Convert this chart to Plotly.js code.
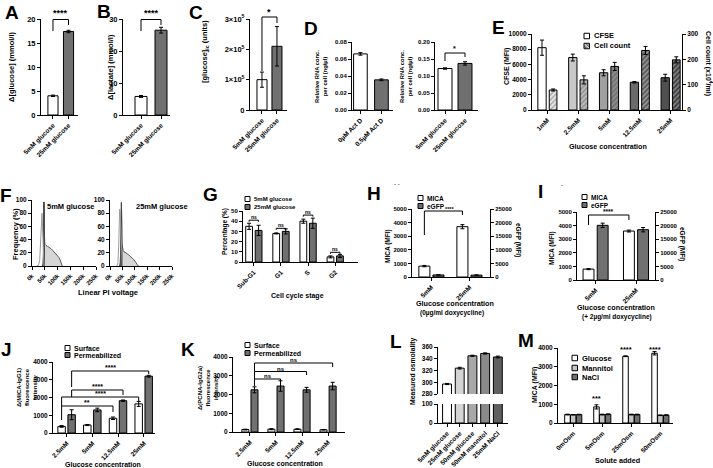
<!DOCTYPE html>
<html><head><meta charset="utf-8">
<script src="https://cdn.plot.ly/plotly-3.0.1.min.js"></script>
<style>html,body{margin:0;padding:0;background:#fff}#chart{width:713px;height:468px}</style>
</head><body><div id="chart"></div>
<script>
// ---------------- DATA ----------------
const glucCats = ['5mM glucose', '25mM glucose'];
const aVals = [4.0, 17.4], aErr = [0.15, 0.25];
const bVals = [5.8, 26.5], bErr = [0.3, 0.9];
const cVals = [1.0e5, 2.1e5], cErr = [0.25e5, 0.65e5];
const d1Cats = ['0µM Act D', '0.5µM Act D'];
const d1Vals = [0.066, 0.0355], d1Err = [0.0015, 0.001];
const d2Vals = [0.122, 0.137], d2Err = [0.002, 0.005];
const eCats = ['1mM', '2.5mM', '5mM', '12.5mM', '25mM'];
const eCFSE = [8200, 6900, 4900, 3650, 4250], eCFSEErr = [1000, 450, 400, 100, 450];
const eCount = [79, 119, 172, 235, 198], eCountErr = [4, 16, 16, 16, 12];
const f1WhiteX = [18, 25, 30, 34, 37, 39, 41, 43, 45, 47];
const f1WhiteY = [0, 1, 8, 45, 78, 80, 60, 25, 5, 0];
const f1MainX = [40, 43, 45, 46, 47, 48, 50, 52, 55, 60, 65, 70, 75, 80, 85, 90, 95, 100, 105, 110, 115, 118];
const f1MainY = [0, 3, 15, 60, 97, 55, 33, 32, 31, 30, 29, 27, 26, 24, 22, 20, 18, 16, 13, 9, 3, 0];
const f1SpikeX = [44, 45.5, 46.5, 47.5, 49], f1SpikeY = [0, 80, 97, 85, 0];
const f2WhiteX = [28, 32, 35, 37, 39, 41, 43, 45, 47, 50];
const f2WhiteY = [0, 5, 30, 70, 86, 80, 60, 30, 8, 0];
const f2MainX = [38, 41, 43, 45, 46, 47, 48, 50, 53, 56, 60, 65, 70, 75, 80, 85, 90, 95, 100, 105, 110, 115];
const f2MainY = [0, 5, 20, 60, 96, 60, 35, 25, 23, 22, 21, 20, 19, 17, 15, 14, 12, 10, 8, 5, 2, 0];
const f2SpikeX = [43, 45, 46, 47, 49], f2SpikeY = [0, 85, 96, 80, 0];
const gCats = ['Sub-G1', 'G1', 'S', 'G2'];
const g5 = [35, 28, 40, 5], g5Err = [3, 0.5, 2, 1];
const g25 = [31, 30, 38, 6], g25Err = [5, 2.5, 5, 1.5];
const hCats = ['5mM', '25mM'];
const hMICA = [800, 3700], hMICAErr = [50, 150];
const hEGFP = [750, 700], hEGFPErr = [60, 60];
const iMICA = [800, 3600], iMICAErr = [40, 70];
const iEGFP = [20100, 18500], iEGFPErr = [800, 800];
const jkCats = ['2.5mM', '5mM', '12.5mM', '25mM'];
const jSurf = [370, 450, 830, 1640], jSurfErr = [50, 30, 70, 140];
const jPerm = [1030, 1300, 1820, 3200], jPermErr = [280, 100, 40, 50];
const kSurf = [130, 150, 150, 120], kSurfErr = [20, 30, 20, 15];
const kPerm = [2250, 2450, 2250, 2450], kPermErr = [160, 280, 130, 200];
const lCats = ['5mM glucose', '25mM glucose', '50mM glucose', '50mM mannitol', '25mM NaCl'];
const lVals = [297, 324, 345, 349, 343], lErr = [1, 1.5, 1, 1, 1.5];
const mCats = ['0mOsm', '5mOsm', '25mOsm', '50mOsm'];
const mGlu = [450, 860, 3560, 3720], mGluErr = [20, 110, 20, 90];
const mMan = [440, 450, 450, 410], mManErr = [15, 20, 20, 15];
const mNaCl = [450, 465, 450, 420], mNaClErr = [15, 20, 20, 15];

// ---------------- STYLE / LAYOUT ----------------
const W = 713, H = 468;
const FONT = 'Liberation Sans, Arial, sans-serif';
const BK = '#000', GR = '#707070';
const fnt = (s) => ({ family: FONT, size: s, color: BK, weight: 'bold' });

const layout = {
  width: W, height: H, margin: { l: 0, r: 0, t: 0, b: 0 },
  paper_bgcolor: '#fff', plot_bgcolor: 'rgba(0,0,0,0)', showlegend: false, barmode: 'overlay',
  font: fnt(7), annotations: [], shapes: []
};
const axBase = {
  showline: true, linecolor: BK, linewidth: 1, ticks: 'outside', ticklen: 3, tickwidth: 1, tickcolor: BK,
  showgrid: false, zeroline: false, fixedrange: true, automargin: false
};
function X(id, x0, x1, range, anchor, cats, o) {
  const ax = Object.assign({}, axBase, {
    domain: [x0 / W, x1 / W], range: range, anchor: anchor, tickangle: -45, tickfont: fnt(6.5)
  });
  if (cats) { ax.type = 'category'; ax.categoryorder = 'array'; ax.categoryarray = cats; }
  layout['xaxis' + (id === 1 ? '' : id)] = Object.assign(ax, o || {});
}
function Y(id, yt, yb, range, anchor, o) {
  layout['yaxis' + (id === 1 ? '' : id)] = Object.assign({}, axBase, {
    domain: [1 - yb / H, 1 - yt / H], range: range, anchor: anchor, tickangle: 0, tickfont: fnt(6.5)
  }, o || {});
}
function txt(x, y, t, s, o) {
  layout.annotations.push(Object.assign({
    xref: 'paper', yref: 'paper', x: x / W, y: 1 - y / H, text: t, showarrow: false,
    xanchor: 'center', yanchor: 'middle', font: fnt(s)
  }, o || {}));
}
function star(xa, xc, y, t, s) {
  layout.annotations.push({ xref: xa, yref: 'paper', x: xc, y: 1 - y / H, text: t, showarrow: false,
    xanchor: 'center', yanchor: 'middle', font: fnt(s) });
}
function bracket(xa, x0, x1, yh, yl0, yl1) {
  const L = (a, b, c, d) => ({ type: 'line', xref: xa, yref: 'paper', x0: a, x1: b, y0: 1 - c / H, y1: 1 - d / H, line: { color: BK, width: 1 } });
  layout.shapes.push(L(x0, x0, yl0, yh), L(x0, x1, yh, yh), L(x1, x1, yh, yl1));
}
function bracketD(xa, ya, x0, x1, yh, yl) {
  const L = (a, b, c, d) => ({ type: 'line', xref: xa, yref: ya, x0: a, x1: b, y0: c, y1: d, line: { color: BK, width: 1 } });
  layout.shapes.push(L(x0, x0, yl, yh), L(x0, x1, yh, yh), L(x1, x1, yh, yl));
}
function legItem(x, y, fill, label, s, box, hatch) {
  layout.shapes.push({ type: 'rect', xref: 'paper', yref: 'paper', x0: x / W, x1: (x + box) / W,
    y0: 1 - (y + box / 2) / H, y1: 1 - (y - box / 2) / H, fillcolor: fill, line: { color: BK, width: 1 } });
  if (hatch) {
    for (let k = 1; k <= 3; k++) {
      const a = k * box / 4;
      layout.shapes.push({ type: 'line', xref: 'paper', yref: 'paper', x0: (x) / W, y0: 1 - (y + box / 2 - a) / H,
        x1: (x + a) / W, y1: 1 - (y + box / 2) / H, line: { color: '#333', width: 0.7 } });
      layout.shapes.push({ type: 'line', xref: 'paper', yref: 'paper', x0: (x + a) / W, y0: 1 - (y - box / 2) / H,
        x1: (x + box) / W, y1: 1 - (y - box / 2 + (box - a)) / H, line: { color: '#333', width: 0.7 } });
    }
  }
  txt(x + box + 2, y, label, s, { xanchor: 'left' });
}

const traces = [];
function bars(xa, ya, cats, vals, errs, colors, off, wd, extra) {
  const t = { type: 'bar', x: cats, y: vals, xaxis: xa, yaxis: ya, offset: off, width: wd,
    marker: { color: colors, line: { color: BK, width: 1 } }, hoverinfo: 'skip' };
  if (errs) t.error_y = { type: 'data', array: errs, visible: true, color: BK, thickness: 1, width: 2 };
  traces.push(Object.assign(t, extra || {}));
}
function hist(xa, ya, xs, ys, fill, line) {
  traces.push({ type: 'scatter', mode: 'lines', x: xs, y: ys, xaxis: xa, yaxis: ya,
    fill: fill ? 'tozeroy' : 'none', fillcolor: fill || 'rgba(0,0,0,0)', line: { color: line, width: 1 }, hoverinfo: 'skip' });
}

// ---------- A ----------
X(1, 41, 78, [-0.77, 1.61], 'y', glucCats);
Y(1, 19, 115, [0, 20], 'x', { dtick: 5, tickfont: fnt(7.5) });
bars('x', 'y', glucCats, aVals, aErr, ['#fff', GR], -0.325, 0.65);
bracket('x', 0, 1, 19.5, 31, 25); star('x', 0.5, 13, '****', 9);
txt(12, 67, 'Δ[glucose] (mmol/l)', 7.5, { textangle: -90 });
// ---------- B ----------
X(2, 123, 170, [-0.9, 1.45], 'y2', glucCats);
Y(2, 19, 115, [0, 30], 'x2', { dtick: 10, tickfont: fnt(7.5) });
bars('x2', 'y2', glucCats, bVals, bErr, ['#fff', GR], -0.3, 0.6);
bracket('x2', 0, 1, 19.5, 31, 25); star('x2', 0.5, 13, '****', 9);
txt(111, 67, 'Δ[lactate] (mmol/l)', 7.5, { textangle: -90 });
// ---------- C ----------
X(3, 250, 287, [-0.8, 1.67], 'y3', glucCats);
Y(3, 19, 110, [0, 3e5], 'x3', { tickvals: [0, 1e5, 2e5, 3e5], ticktext: ['0', '1×10<sup>5</sup>', '2×10<sup>5</sup>', '3×10<sup>5</sup>'], tickfont: fnt(7.5) });
bars('x3', 'y3', glucCats, cVals, cErr, ['#fff', GR], -0.335, 0.67);
bracket('x3', 0, 1, 17, 71, 23); star('x3', 0.5, 12, '*', 9);
txt(205, 52, '[glucose]<sub>ic</sub> (units)', 7.5, { textangle: -90 });
// ---------- D ----------
X(4, 352, 393, [-0.4, 1.55], 'y4', d1Cats);
Y(4, 42, 110, [0, 0.08], 'x4', { dtick: 0.02, tickformat: '.2f', tickfont: fnt(6) });
bars('x4', 'y4', d1Cats, d1Vals, d1Err, ['#fff', GR], -0.325, 0.65);
txt(321, 77, 'Relative RNA conc.<br>per cell (ng/µl)', 5.8, { textangle: -90 });
X(5, 435, 478, [-0.5, 1.65], 'y5', glucCats);
Y(5, 42, 110, [0, 0.2], 'x5', { dtick: 0.05, tickformat: '.2f', tickfont: fnt(6) });
bars('x5', 'y5', glucCats, d2Vals, d2Err, ['#fff', GR], -0.35, 0.7);
bracket('x5', 0, 1, 53, 61, 57); star('x5', 0.5, 49, '*', 7);
txt(406, 77, 'Relative RNA conc.<br>per cell (ng/µl)', 5.8, { textangle: -90 });
// ---------- E ----------
X(6, 532, 682, [-0.5, 4.37], 'y6', eCats);
Y(6, 34, 110, [0, 10000], 'x6', { dtick: 2000, tickformat: 'd' });
Y(7, 34, 110, [0, 300], 'x6', { dtick: 100, side: 'right', overlaying: 'y6' });
bars('x6', 'y6', eCats, eCFSE, eCFSEErr, ['#fff', '#c8c8c8', '#a0a0a0', '#6a6a6a', '#505050'], -0.31, 0.27);
bars('x6', 'y7', eCats, eCount, eCountErr, null, 0.06, 0.25,
  { marker: { color: ['#e8e8e8', '#bdbdbd', '#8c8c8c', '#5a5a5a', '#3c3c3c'], line: { color: BK, width: 1 },
    pattern: { shape: '/', fillmode: 'overlay', fgcolor: '#222', size: 3.5, solidity: 0.35 } } });
legItem(584, 36, '#fff', 'CFSE', 7.5, 5.5);
legItem(584, 46, '#d8d8d8', 'Cell count', 7.5, 5.5, true);
txt(507, 66, 'CFSE (MFI)', 7, { textangle: -90 });
txt(708, 63, 'Cell count (x10<sup>4</sup>/ml)', 7, { textangle: 90 });
txt(608, 146, 'Glucose concentration', 7.2);
// ---------- F ----------
X(7, 32, 96, [0, 250], 'y8', null, { dtick: 50, ticksuffix: 'k', tickfont: fnt(6) });
Y(8, 200, 266, [0, 100], 'x7', { dtick: 20 });
hist('x7', 'y8', f1MainX, f1MainY, '#d6d6d6', '#555');
hist('x7', 'y8', f1SpikeX, f1SpikeY, '#555', '#444');
hist('x7', 'y8', f1WhiteX, f1WhiteY, null, '#9a9a9a');
X(8, 110, 172, [0, 250], 'y9', null, { dtick: 50, ticksuffix: 'k', tickfont: fnt(6) });
Y(9, 200, 266, [0, 100], 'x8', { dtick: 20 });
hist('x8', 'y9', f2MainX, f2MainY, '#d6d6d6', '#555');
hist('x8', 'y9', f2SpikeX, f2SpikeY, '#555', '#444');
hist('x8', 'y9', f2WhiteX, f2WhiteY, null, '#9a9a9a');
txt(71, 206, '5mM glucose', 7.5); txt(162, 206, '25mM glucose', 7.5);
txt(15, 234, 'Frequency (%)', 7.5, { textangle: -90 });
txt(108, 292, 'Linear PI voltage', 7.5);
// ---------- G ----------
X(9, 243, 358, [-0.4, 3.84], 'y10', gCats);
Y(10, 211, 262, [0, 50], 'x9', { dtick: 10, tickfont: fnt(6) });
bars('x9', 'y10', gCats, g5, g5Err, '#fff', -0.3, 0.25);
bars('x9', 'y10', gCats, g25, g25Err, GR, 0.05, 0.25);
[41, 33, 46, 9.5].forEach((v, i) => {
  bracketD('x9', 'y10', i - 0.175, i + 0.175, v, v - 1.5);
  layout.annotations.push({ xref: 'x9', yref: 'y10', x: i, y: v + 3, text: 'ns', showarrow: false, font: fnt(5) });
});
legItem(245, 199, '#fff', '5mM glucose', 6, 5);
legItem(245, 207, GR, '25mM glucose', 6, 5);
txt(225, 232, 'Percentage (%)', 6.5, { textangle: -90 });
txt(297, 296, 'Cell cycle stage', 7);
// ---------- H ----------
X(10, 412, 490, [-0.51, 1.54], 'y11', hCats);
Y(11, 209, 277, [0, 5000], 'x10', { dtick: 1000, tickfont: fnt(6) });
Y(12, 209, 277, [0, 25000], 'x10', { dtick: 5000, tickformat: 'd', side: 'right', overlaying: 'y11', tickfont: fnt(6) });
bars('x10', 'y11', hCats, hMICA, hMICAErr, '#fff', -0.33, 0.29);
bars('x10', 'y12', hCats, hEGFP, hEGFPErr, GR, 0.04, 0.29);
bracket('x10', -0.185, 0.815, 211, 235, 215); star('x10', 0.47, 208.5, '****', 5.5);
legItem(418, 198, '#fff', 'MICA', 6.5, 5);
legItem(418, 206, GR, 'eGFP', 6.5, 5);
txt(388, 246, 'MICA (MFI)', 6.5, { textangle: -90 });
txt(518, 240, 'eGFP (MFI)', 6.5, { textangle: 90 });
txt(455, 303, 'Glucose concentration', 7.2);
txt(452, 313, '(0µg/ml doxycycline)', 6.5);
txt(397, 184, '- -', 6, { font: { family: FONT, size: 6, color: '#666' } });
// ---------- I ----------
X(11, 577, 655, [-0.46, 1.47], 'y13', hCats);
Y(13, 212, 280, [0, 5000], 'x11', { dtick: 1000, tickfont: fnt(6) });
Y(14, 212, 280, [0, 25000], 'x11', { dtick: 5000, tickformat: 'd', side: 'right', overlaying: 'y13', tickfont: fnt(6) });
bars('x11', 'y13', hCats, iMICA, iMICAErr, '#fff', -0.31, 0.27);
bars('x11', 'y14', hCats, iEGFP, iEGFPErr, GR, 0.04, 0.27);
bracket('x11', -0.175, 0.825, 215, 225, 220); star('x11', 0.325, 212, '****', 6.5);
legItem(582, 197, '#fff', 'MICA', 6.5, 5);
legItem(582, 205, GR, 'eGFP', 6.5, 5);
txt(552, 248, 'MICA (MFI)', 6.5, { textangle: -90 });
txt(682, 244, 'eGFP (MFI)', 6.5, { textangle: 90 });
txt(616, 307, 'Glucose concentration', 7.2);
txt(617, 317, '(+ 2µg/ml doxycycline)', 6.5);
txt(562, 185, '-', 6, { font: { family: FONT, size: 6, color: '#666' } });
// ---------- J ----------
X(12, 53, 155, [-0.54, 3.43], 'y15', jkCats);
Y(15, 362, 433, [0, 4000], 'x12', { dtick: 1000 });
bars('x12', 'y15', jkCats, jSurf, jSurfErr, '#fff', -0.35, 0.29);
bars('x12', 'y15', jkCats, jPerm, jPermErr, GR, 0.04, 0.29);
bracket('x12', -0.205, 1.795, 406, 420, 412); star('x12', 0.8, 402.5, '**', 7);
bracket('x12', -0.205, 2.795, 397, 406, 401); star('x12', 1.3, 393.5, '****', 7);
bracket('x12', 0.185, 2.185, 390, 397, 395); star('x12', 1.2, 386.5, '****', 7);
bracket('x12', 0.185, 3.185, 371, 387, 374); star('x12', 1.7, 367.5, '****', 7);
legItem(65, 348, '#fff', 'Surface', 7, 5);
legItem(65, 355, GR, 'Permeabilized', 7, 5);
txt(27, 388, 'Δ(MICA-IgG1)<br>fluorescence<br>intensity', 6, { textangle: -90 });
txt(103, 464, 'Glucose concentration', 7);
// ---------- K ----------
X(13, 233, 345, [-0.65, 3.65], 'y16', jkCats);
Y(16, 357, 432, [0, 4000], 'x13', { dtick: 1000 });
bars('x13', 'y16', jkCats, kSurf, kSurfErr, '#fff', -0.31, 0.27);
bars('x13', 'y16', jkCats, kPerm, kPermErr, GR, 0.04, 0.27);
bracket('x13', 0.175, 1.175, 379, 386, 383); star('x13', 0.675, 376, 'ns', 6);
bracket('x13', 0.175, 2.175, 371.5, 379, 375); star('x13', 1.175, 368.5, 'ns', 6);
bracket('x13', 0.175, 3.175, 363, 371.5, 367); star('x13', 1.675, 360, 'ns', 6);
legItem(245, 345, '#fff', 'Surface', 7, 5);
legItem(245, 353, GR, 'Permeabilized', 7, 5);
txt(208, 388, 'Δ(PCNA-IgG2a)<br>fluorescence<br>intensity', 6, { textangle: -90 });
txt(285, 463, 'Glucose concentration', 7);
// ---------- L ----------
X(14, 438, 508, [-0.71, 4.8], 'y18', lCats);
Y(17, 347, 394, [280, 360], 'x14', { dtick: 20 });
Y(18, 404, 423, [0, 100], 'x14', { tickvals: [0, 100] });
const lColors = ['#fff', '#d4d4d4', '#a8a8a8', '#8a8a8a', '#606060'];
bars('x14', 'y17', lCats, lVals, lErr, lColors, -0.35, 0.7);
bars('x14', 'y18', lCats, lVals, null, lColors, -0.35, 0.7);
txt(413, 372, 'Measured osmolality', 6.8, { textangle: -90 });
// ---------- M ----------
X(15, 558, 673, [-0.53, 3.43], 'y19', mCats);
Y(19, 348, 423, [0, 4000], 'x15', { dtick: 1000 });
bars('x15', 'y19', mCats, mGlu, mGluErr, '#fff', -0.3, 0.19);
bars('x15', 'y19', mCats, mMan, mManErr, '#c4c4c4', -0.1, 0.19);
bars('x15', 'y19', mCats, mNaCl, mNaClErr, GR, 0.1, 0.19);
star('x15', 0.795, 398, '***', 7.5);
star('x15', 1.795, 349, '****', 7.5);
star('x15', 2.795, 349, '****', 7.5);
legItem(572, 358, '#fff', 'Glucose', 7.5, 5.5);
legItem(572, 368, '#c4c4c4', 'Mannitol', 7.5, 5.5);
legItem(572, 377, GR, 'NaCl', 7.5, 5.5);
txt(535, 385, 'MICA (MFI)', 7, { textangle: -90 });
txt(617, 460, 'Solute added', 7.2);

// ---------- Panel letters ----------
[['A', 12, 12], ['B', 104, 11], ['C', 196, 12], ['D', 311, 28], ['E', 499, 27], ['F', 6, 195], ['G', 210, 194],
 ['H', 374, 193], ['I', 540, 191], ['J', 6, 349], ['K', 188, 349], ['L', 396, 341], ['M', 526, 340]]
  .forEach(p => txt(p[1], p[2], p[0], 19));

Plotly.newPlot('chart', traces, layout, { staticPlot: true });
</script></body></html>
